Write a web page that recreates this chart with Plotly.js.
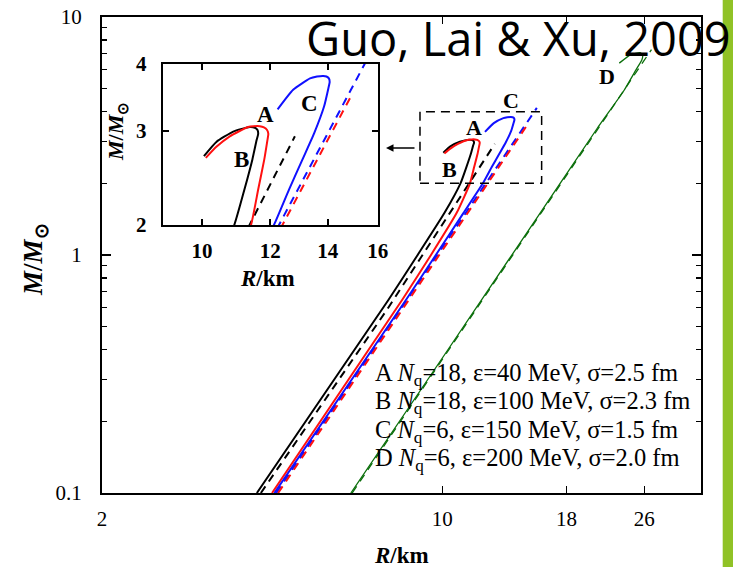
<!DOCTYPE html>
<html><head><meta charset="utf-8">
<script src="https://cdn.plot.ly/plotly-3.0.1.min.js"></script>
<style>html,body{margin:0;padding:0;background:#fff;} #chart{width:733px;height:567px;}</style>
</head><body><div id="chart"></div>
<script>
// ---- data (R in km, M in solar masses) ----
const curveA_R = [4.47, 8.27, 9.48, 10.70, 11.40, 11.62, 11.81, 11.91, 11.94, 11.90, 11.80, 11.67, 11.48, 11.31, 10.77, 10.39, 10.10];
const curveA_M = [0.10, 0.647, 1.00, 1.50, 2.00, 2.33, 2.65, 2.88, 2.96, 3.01, 3.045, 3.06, 3.06, 3.05, 2.93, 2.80, 2.67];
const curveB_R = [4.16, 7.75, 8.90, 10.10, 10.90, 11.20, 11.44, 11.57, 11.62, 11.60, 11.52, 11.36, 10.87, 10.39, 10.05];
const curveB_M = [0.10, 0.647, 1.00, 1.50, 2.00, 2.33, 2.65, 2.88, 2.96, 3.01, 3.04, 3.05, 2.99, 2.86, 2.69];
const curveC_R = [4.52, 8.42, 9.70, 11.05, 12.12, 12.62, 13.08, 13.50, 13.86, 14.02, 14.07, 14.04, 13.95, 13.83, 13.60, 13.35, 12.76, 12.24];
const curveC_M = [0.10, 0.647, 1.00, 1.50, 2.00, 2.33, 2.65, 2.97, 3.33, 3.60, 3.70, 3.76, 3.79, 3.80, 3.79, 3.76, 3.58, 3.29];
const curveD_R = [6.49, 10.10, 15.00, 20.80, 23.60, 25.00, 25.70, 25.80, 25.50, 24.40, 23.10];
const curveD_M = [0.10, 0.38, 1.26, 3.40, 4.90, 6.00, 6.60, 6.90, 7.08, 6.95, 6.40];
// dashed reference lines
const dashA_R = [4.60, 14.88];
const dashA_M = [0.10, 3.47];
const dashB_R = [4.24, 7.69, 12.82];
const dashB_M = [0.10, 0.587, 2.93];
const dashC_R = [4.56, 15.64];
const dashC_M = [0.10, 4.15];
const dashD_R = [6.53, 26.90];
const dashD_M = [0.10, 7.30];
// ticks
const xTickVals = [2, 10, 18, 26];
const xTickText = ['2', '10', '18', '26'];
const yTickVals = [0.1, 1, 10];
const yTickText = ['0.1', '1', '10'];
const yMinorVals = [0.2, 0.3, 0.4, 0.5, 0.6, 0.7, 0.8, 0.9, 2, 3, 4, 5, 6, 7, 8, 9];
const insetXTicks = [10, 12, 14, 16];
const insetYTicks = [2, 3, 4];
const legendLines = [
  'A <i>N</i><sub>q</sub>=18, ε=40 MeV, σ=2.5 fm',
  'B <i>N</i><sub>q</sub>=18, ε=100 MeV, σ=2.3 fm',
  'C <i>N</i><sub>q</sub>=6, ε=150 MeV, σ=1.5 fm',
  'D <i>N</i><sub>q</sub>=6, ε=200 MeV, σ=2.0 fm'
];

const SERIF = 'Liberation Serif, Times New Roman, serif';
const RED = '#ff1010', BLUE = '#1010ff', BLACK = '#000000', GREEN = '#0a6e0a';

function curveSet(xa, ya) {
  const base = {type: 'scatter', mode: 'lines', xaxis: xa, yaxis: ya, hoverinfo: 'skip'};
  const sol = (x, y, c, w) => Object.assign({}, base, {x, y, line: {color: c, width: w, shape: 'spline', smoothing: 0.5}});
  const das = (x, y, c, w) => Object.assign({}, base, {x, y, line: {color: c, width: w, dash: '8px,6px'}});
  return [
    das(dashD_R, dashD_M, GREEN, 1.3),
    sol(curveD_R, curveD_M, GREEN, 1.3),
    sol(curveB_R, curveB_M, BLACK, 2),
    das(dashB_R, dashB_M, BLACK, 2),
    sol(curveA_R, curveA_M, RED, 2),
    sol(curveC_R, curveC_M, BLUE, 2),
    das(dashC_R, dashC_M, BLUE, 2),
    das(dashA_R, dashA_M, RED, 2)
  ];
}
const traces = curveSet('x', 'y').concat(curveSet('x2', 'y2'));

// geometry helpers (plot area in pixels: x 102..701, y 17..493)
const L = 102, R = 701, T = 17, B = 493;
const px = v => (v - L) / (R - L);
const py = v => (B - v) / (B - T);

const axCommon = {showline: true, linewidth: 2, linecolor: '#000', mirror: 'ticks', showgrid: false, zeroline: false,
  ticks: 'inside', tickcolor: '#000', tickwidth: 1.5};

const layout = {
  width: 733, height: 567,
  margin: {l: L, r: 733 - R, t: T, b: 567 - B, autoexpand: false},
  paper_bgcolor: '#fff', plot_bgcolor: 'rgba(0,0,0,0)',
  showlegend: false,
  xaxis: Object.assign({}, axCommon, {type: 'log', range: [Math.log10(2), Math.log10(34)], domain: [0, 1], anchor: 'y',
    tickmode: 'array', tickvals: xTickVals, ticktext: xTickText, ticklen: 7,
    tickfont: {family: SERIF, size: 21, color: '#000'}, ticklabelstandoff: 6}),
  yaxis: Object.assign({}, axCommon, {type: 'log', range: [-1, 1], domain: [0, 1], anchor: 'x',
    tickmode: 'array', tickvals: yTickVals, ticktext: yTickText, ticklen: 9,
    minor: {tickmode: 'array', tickvals: yMinorVals, ticks: 'inside', ticklen: 5, tickwidth: 1.2, tickcolor: '#000', showgrid: false},
    tickfont: {family: SERIF, size: 21, color: '#000'}, ticklabelstandoff: 14}),
  xaxis2: Object.assign({}, axCommon, {type: 'log', range: [Math.log10(9), Math.log10(16)], domain: [px(162.7), px(377.7)], anchor: 'y2',
    tickmode: 'array', tickvals: insetXTicks, ticklen: 6,
    tickfont: {family: SERIF, size: 21, color: '#000', weight: 'bold'}, ticklabelstandoff: 6}),
  yaxis2: Object.assign({}, axCommon, {type: 'log', range: [Math.log10(2), Math.log10(4)], domain: [py(225), py(64)], anchor: 'x2',
    tickmode: 'array', tickvals: insetYTicks, ticklen: 6,
    tickfont: {family: SERIF, size: 21, color: '#000', weight: 'bold'}, ticklabelstandoff: 10}),
  shapes: [
    {type: 'rect', xref: 'x', yref: 'y', x0: 9, x1: 16, y0: 2, y1: 4, line: {color: '#000', width: 1.5, dash: '9px,6px'}},
    {type: 'rect', xref: 'paper', yref: 'paper', x0: px(722.7), x1: px(740), y0: py(600), y1: py(-20),
      fillcolor: '#90C226', line: {width: 0}, layer: 'above'}
  ],
  annotations: []
};

const ann = layout.annotations;
const txt = (x, y, text, size, extra) => ann.push(Object.assign({xref: 'paper', yref: 'paper', x: px(x), y: py(y), text: text,
  showarrow: false, xanchor: 'center', yanchor: 'middle', font: {family: SERIF, size: size, color: '#000'}}, extra || {}));

// title
txt(518.5, 38, 'Guo, Lai &amp; Xu, 2009', 47, {font: {family: 'Open Sans, DejaVu Sans, sans-serif', size: 47, color: '#000'}});
// axis titles
txt(35, 260, '<i>M</i>/<i>M</i><sub>⊙</sub>', 27, {textangle: -90, font: {family: SERIF, size: 27, color: '#000', weight: 'bold'}});
txt(401, 555, '<i>R</i>/km', 23, {font: {family: SERIF, size: 23, color: '#000', weight: 'bold'}});
txt(117, 132, '<i>M</i>/<i>M</i><sub>⊙</sub>', 22, {textangle: -90, font: {family: SERIF, size: 22, color: '#000', weight: 'bold'}});
txt(267, 278, '<i>R</i>/km', 23, {font: {family: SERIF, size: 23, color: '#000', weight: 'bold'}});
// curve letters
const boldL = s => ({font: {family: SERIF, size: s, color: '#000', weight: 'bold'}});
txt(474, 127.5, 'A', 22, boldL(22));
txt(449, 169.5, 'B', 22, boldL(22));
txt(511, 100, 'C', 22, boldL(22));
txt(607, 76, 'D', 22, boldL(22));
txt(265.5, 114.5, 'A', 23, boldL(23));
txt(241.7, 159, 'B', 23, boldL(23));
txt(309, 103, 'C', 23, boldL(23));
// parameter list
const baselines = [380, 408.3, 436.7, 465];
legendLines.forEach((s, i) => txt(373, baselines[i] - 23, s, 24.5, {xanchor: 'left', yanchor: 'top', align: 'left'}));
// arrow
ann.push({xref: 'paper', yref: 'paper', x: px(386), y: py(148), ax: 30, ay: 0, showarrow: true, text: '',
  arrowhead: 2, arrowsize: 1, arrowwidth: 1.5, arrowcolor: '#000'});

Plotly.newPlot('chart', traces, layout, {staticPlot: true, displayModeBar: false});
</script></body></html>
